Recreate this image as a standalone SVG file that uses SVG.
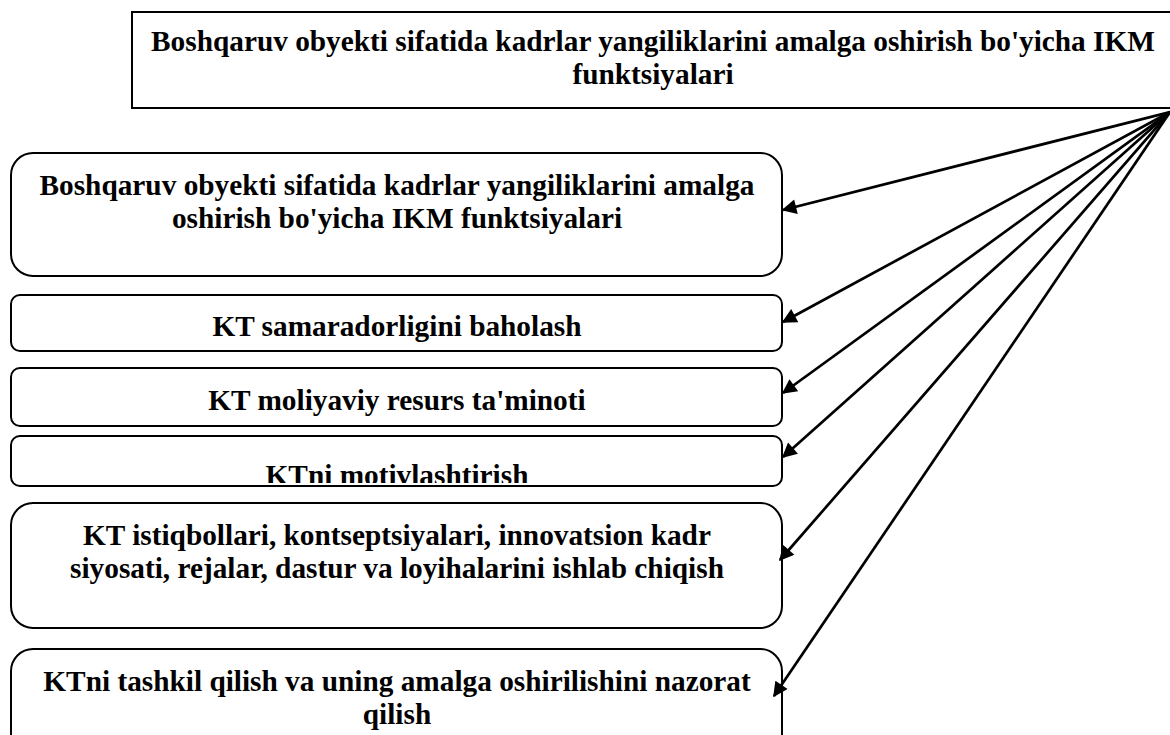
<svg xmlns="http://www.w3.org/2000/svg" width="1170" height="735" viewBox="0 0 1170 735">
<style>
.box{fill:#fff;stroke:#000;stroke-width:2}
.t{font-family:"Liberation Serif","Times New Roman",serif;font-weight:bold;font-size:29.3px;fill:#000;text-anchor:middle}
.c{stroke:#000;stroke-width:2.7;fill:none;marker-end:url(#ah)}
</style>
<defs>
<marker id="ah" viewBox="0 0 10 10" refX="9" refY="5" markerWidth="7.5" markerHeight="5.5" orient="auto" markerUnits="strokeWidth">
<path d="M0,0 L10,5 L0,10 z" fill="#000"/>
</marker>
<clipPath id="cp4"><rect x="11" y="436" width="771" height="47"/></clipPath>
</defs>
<rect width="1170" height="735" fill="#fff"/>
<g id="top">
<rect class="box" x="132" y="12" width="1060" height="96"/>
<text class="t" x="653" y="51">Boshqaruv obyekti sifatida kadrlar yangiliklarini amalga oshirish bo'yicha IKM</text>
<text class="t" x="653" y="84">funktsiyalari</text>
</g>
<g id="n1">
<rect class="box" x="11" y="153" width="771" height="123" rx="22"/>
<text class="t" x="397" y="195">Boshqaruv obyekti sifatida kadrlar yangiliklarini amalga</text>
<text class="t" x="397" y="228">oshirish bo'yicha IKM funktsiyalari</text>
</g>
<g id="n2">
<rect class="box" x="11" y="295" width="771" height="56" rx="9"/>
<text class="t" x="397" y="336">KT samaradorligini baholash</text>
</g>
<g id="n3">
<rect class="box" x="11" y="368" width="771" height="58" rx="9"/>
<text class="t" x="397" y="410">KT moliyaviy resurs ta'minoti</text>
</g>
<g id="n4">
<rect class="box" x="11" y="436" width="771" height="50" rx="9"/>
<text class="t" x="397" y="485" clip-path="url(#cp4)">KTni motivlashtirish</text>
</g>
<g id="n5">
<rect class="box" x="11" y="503" width="771" height="125" rx="22"/>
<text class="t" x="397" y="545">KT istiqbollari, kontseptsiyalari, innovatsion kadr</text>
<text class="t" x="397" y="578">siyosati, rejalar, dastur va loyihalarini ishlab chiqish</text>
</g>
<g id="n6">
<rect class="box" x="11" y="649" width="771" height="110" rx="22"/>
<text class="t" x="397" y="691">KTni tashkil qilish va uning amalga oshirilishini nazorat</text>
<text class="t" x="397" y="724">qilish</text>
</g>
<g id="connectors">
<line class="c" x1="1170" y1="112" x2="783" y2="210"/>
<line class="c" x1="1170" y1="112" x2="783" y2="322"/>
<line class="c" x1="1170" y1="112" x2="783" y2="393"/>
<line class="c" x1="1170" y1="112" x2="783" y2="457"/>
<line class="c" x1="1170" y1="112" x2="780" y2="560"/>
<line class="c" x1="1170" y1="112" x2="774" y2="696"/>
</g>
</svg>
